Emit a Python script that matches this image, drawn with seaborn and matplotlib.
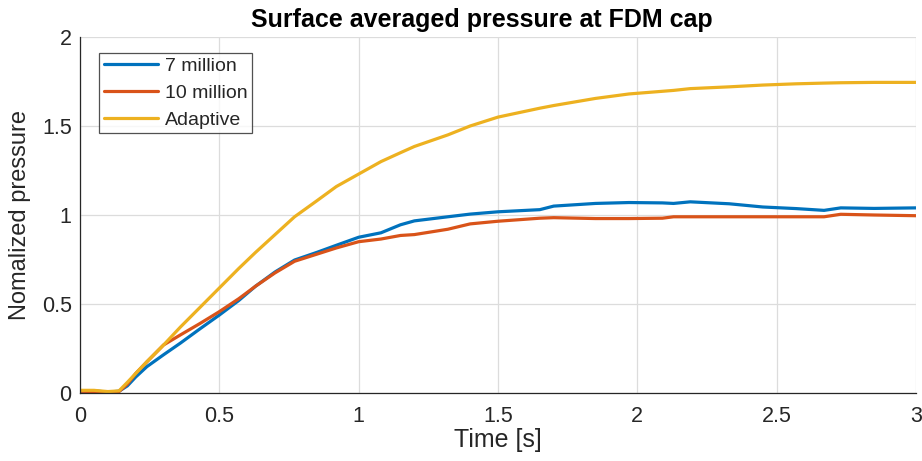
import matplotlib
matplotlib.use("Agg")
import matplotlib.pyplot as plt
import seaborn as sns
import pandas as pd

time_s = [0.00, 0.05, 0.10, 0.14, 0.17, 0.20, 0.24, 0.30, 0.36, 0.43, 0.50, 0.57, 0.63,
          0.70, 0.77, 0.85, 0.92, 1.00, 1.08, 1.15, 1.20, 1.32, 1.40, 1.50, 1.65, 1.70,
          1.85, 1.97, 2.09, 2.13, 2.19, 2.33, 2.45, 2.57, 2.67, 2.73, 2.85, 3.00]

p_7million = [0.010, 0.012, 0.005, 0.010, 0.040, 0.090, 0.148, 0.215, 0.280, 0.360, 0.438,
              0.520, 0.600, 0.680, 0.747, 0.790, 0.830, 0.875, 0.900, 0.945, 0.967, 0.990,
              1.005, 1.018, 1.030, 1.050, 1.065, 1.070, 1.068, 1.065, 1.074, 1.063, 1.045,
              1.036, 1.026, 1.040, 1.037, 1.040]

p_10million = [0.010, 0.008, 0.005, 0.008, 0.050, 0.110, 0.175, 0.270, 0.326, 0.390, 0.457,
               0.530, 0.600, 0.675, 0.740, 0.780, 0.815, 0.850, 0.865, 0.885, 0.890, 0.920,
               0.950, 0.965, 0.982, 0.985, 0.980, 0.980, 0.982, 0.990, 0.990, 0.990, 0.990,
               0.990, 0.990, 1.004, 1.000, 0.996]

p_adaptive = [0.015, 0.015, 0.008, 0.012, 0.060, 0.110, 0.176, 0.270, 0.370, 0.480, 0.590,
              0.700, 0.790, 0.890, 0.990, 1.080, 1.160, 1.230, 1.300, 1.350, 1.385, 1.450,
              1.500, 1.550, 1.600, 1.615, 1.655, 1.680, 1.695, 1.700, 1.710, 1.720, 1.730,
              1.737, 1.741, 1.743, 1.745, 1.745]

series_names = ["7 million", "10 million", "Adaptive"]
series_colors = ["#0072BD", "#D95319", "#EDB120"]

xticks = [0, 0.5, 1, 1.5, 2, 2.5, 3]
xtick_labels = ["0", "0.5", "1", "1.5", "2", "2.5", "3"]
yticks = [0, 0.5, 1, 1.5, 2]
ytick_labels = ["0", "0.5", "1", "1.5", "2"]

frames = []
for name, vals in zip(series_names, [p_7million, p_10million, p_adaptive]):
    frames.append(pd.DataFrame({"Time": time_s, "Pressure": vals, "Series": name}))
df = pd.concat(frames, ignore_index=True)

sns.set_theme(style="white")
plt.rcParams["font.family"] = ["Liberation Sans", "DejaVu Sans"]

fig = plt.figure(figsize=(9.22, 4.61), dpi=100)
ax = fig.add_axes([80 / 922, 68 / 461, 836 / 922, 356 / 461])

sns.lineplot(data=df, x="Time", y="Pressure", hue="Series", hue_order=series_names,
             palette=series_colors, linewidth=2.3, ax=ax)

ax.set_xlim(0, 3)
ax.set_ylim(0, 2)
ax.set_xticks(xticks)
ax.set_xticklabels(xtick_labels)
ax.set_yticks(yticks)
ax.set_yticklabels(ytick_labels)
ax.grid(True, color="#dcdcdc", linewidth=0.9)
ax.set_axisbelow(True)
for s in ["top", "right"]:
    ax.spines[s].set_visible(False)
for s in ["left", "bottom"]:
    ax.spines[s].set_color("#262626")
    ax.spines[s].set_linewidth(0.9)
ax.tick_params(direction="in", length=5, width=0.9, colors="#262626",
               labelsize=15.5, labelcolor="#262626")
ax.tick_params(axis="x", pad=9)
ax.tick_params(axis="y", pad=6)
ax.set_xlabel("Time [s]", fontsize=18, color="#262626", labelpad=1)
ax.set_ylabel("Nomalized pressure", fontsize=17, color="#262626", labelpad=8)
ax.set_title("Surface averaged pressure at FDM cap", fontsize=18, fontweight="bold",
             color="black", pad=7, x=0.481)

leg = ax.legend(loc="upper left", bbox_to_anchor=(0.023, 0.955), borderaxespad=0,
                fontsize=14, frameon=True, fancybox=False, handlelength=2.8,
                handletextpad=0.35, borderpad=0.22, labelspacing=0.48)
leg.get_frame().set_edgecolor("#262626")
leg.get_frame().set_linewidth(0.9)
for line in leg.get_lines():
    line.set_linewidth(2.3)

fig.savefig("out.png", dpi=100)
